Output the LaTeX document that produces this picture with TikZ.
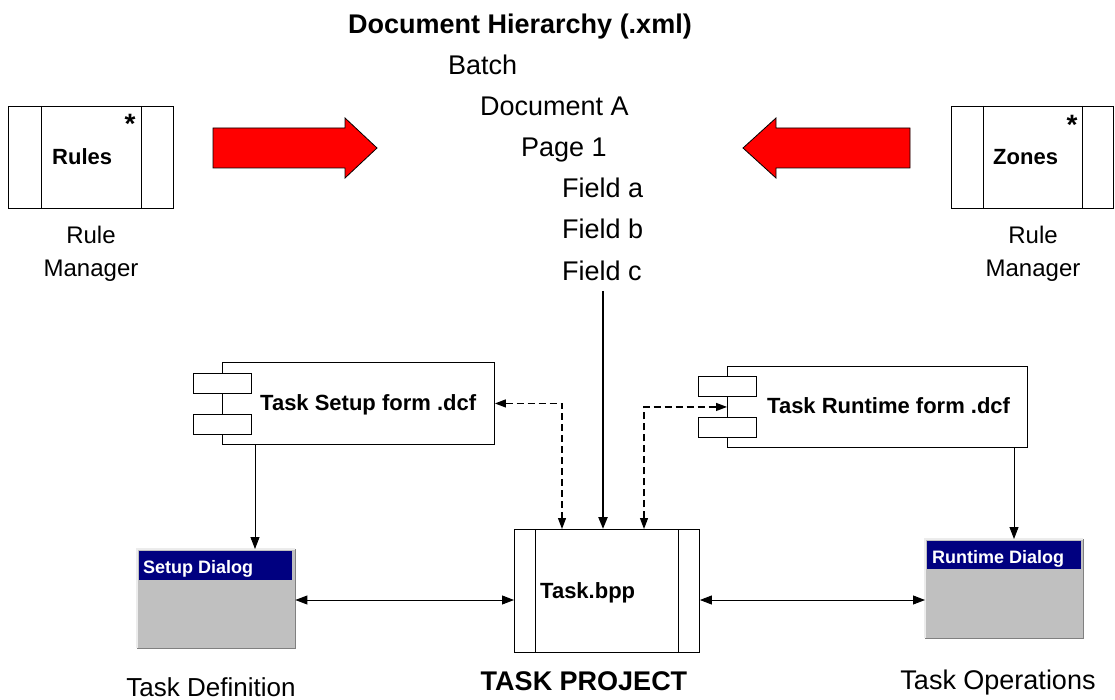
\documentclass[tikz,border=0pt]{standalone}
\usepackage{fontspec}
\setmainfont{Liberation Sans}
\usetikzlibrary{arrows.meta}
\definecolor{dlgblue}{HTML}{000080}
\definecolor{dlggray}{HTML}{C0C0C0}
\definecolor{dlgdark}{HTML}{808080}
\definecolor{arrred}{HTML}{FF0000}
\newcommand{\fsz}[1]{\fontsize{#1}{#1}\selectfont}
\begin{document}
\begin{tikzpicture}[x=1pt,y=-1pt,
  box/.style={draw, line width=0.9pt, inner sep=0, anchor=north west},
  innerline/.style={line width=0.9pt},
  txt/.style={inner sep=0, anchor=base west},
  ctxt/.style={inner sep=0, anchor=base},
  hier/.style={txt, font=\fsz{27}},
  boxlbl/.style={txt, font=\fsz{22}\bfseries},
  dlglbl/.style={txt, font=\fsz{18}\bfseries, text=white},
  star/.style={inner sep=0, anchor=base, font=\fsz{28}\bfseries},
  dlg/.style={fill=dlggray, inner sep=0, anchor=north west},
  bar/.style={fill=dlgblue, inner sep=0, anchor=north west},
  arr/.style={-{Triangle[length=12pt,width=9pt]}, line width=0.9pt},
  arrboth/.style={{Triangle[length=12pt,width=9pt]}-{Triangle[length=12pt,width=9pt]}, line width=0.9pt},
  darr/.style={{Triangle[length=11pt,width=8pt]}-{Triangle[length=11pt,width=8pt]}, line width=1.2pt, dash pattern=on 7pt off 4pt},
  thickarr/.style={-{Triangle[length=12pt,width=9pt]}, line width=2.3pt},
  redarrow/.style={fill=arrred, draw=black, line width=0.8pt, line join=miter}
]
\useasboundingbox (0,0) rectangle (1115,700);

% ---- Document hierarchy texts
\node[ctxt, font=\fsz{27}\bfseries] (title) at (520,34) {Document Hierarchy (.xml)};
\node[hier] (batch) at (448,75) {Batch};
\node[hier] (doca) at (480,116) {Document A};
\node[hier] (page1) at (521,157) {Page 1};
\node[hier] (fielda) at (562,198) {Field a};
\node[hier] (fieldb) at (562,239) {Field b};
\node[hier] (fieldc) at (562,280) {Field c};
\coordinate (fcend) at (603,291);

% ---- Rules box
\node[box, minimum width=165pt, minimum height=102pt] (rules) at (8,106) {};
\draw[innerline] ([xshift=33pt]rules.north west) -- ([xshift=33pt]rules.south west);
\draw[innerline] ([xshift=-32pt]rules.north east) -- ([xshift=-32pt]rules.south east);
\node[boxlbl] (ruleslbl) at (52,165) {Rules};
\node[star] (rulesstar) at (130,134) {*};
\node[ctxt, font=\fsz{24}] (rm1a) at (91,244) {Rule};
\node[ctxt, font=\fsz{24}] (rm1b) at (91,277) {Manager};

% ---- Zones box
\node[box, minimum width=162pt, minimum height=102pt] (zones) at (951,106) {};
\draw[innerline] ([xshift=32pt]zones.north west) -- ([xshift=32pt]zones.south west);
\draw[innerline] ([xshift=-31pt]zones.north east) -- ([xshift=-31pt]zones.south east);
\node[boxlbl] (zoneslbl) at (993,165) {Zones};
\node[star] (zonesstar) at (1072,135) {*};
\node[ctxt, font=\fsz{24}] (rm2a) at (1033,244) {Rule};
\node[ctxt, font=\fsz{24}] (rm2b) at (1033,277) {Manager};

% ---- Red arrows
\draw[redarrow] (213,128) -- (345,128) -- (345,118) -- (377,148) -- (345,178) -- (345,168) -- (213,168) -- cycle;
\draw[redarrow] (910,128) -- (776,128) -- (776,118) -- (743,148) -- (776,178) -- (776,168) -- (910,168) -- cycle;

% ---- Component boxes
\node[box, minimum width=272pt, minimum height=82pt] (setupform) at (222,362) {};
\node[box, fill=white, minimum width=58pt, minimum height=20pt] (sf1) at (193,373) {};
\node[box, fill=white, minimum width=58pt, minimum height=20pt] (sf2) at (193,414) {};
\node[boxlbl] (setupformlbl) at (260,410) {Task Setup form .dcf};

\node[box, minimum width=300pt, minimum height=81pt] (runform) at (727,366) {};
\node[box, fill=white, minimum width=58pt, minimum height=20pt] (rf1) at (698,376) {};
\node[box, fill=white, minimum width=58pt, minimum height=20pt] (rf2) at (698,417) {};
\node[boxlbl] (runformlbl) at (767,413) {Task Runtime form .dcf};

% ---- Task.bpp
\node[box, minimum width=185pt, minimum height=123pt] (task) at (514,529) {};
\draw[innerline] ([xshift=21pt]task.north west) -- ([xshift=21pt]task.south west);
\draw[innerline] ([xshift=-21pt]task.north east) -- ([xshift=-21pt]task.south east);
\node[boxlbl] (tasklbl) at (540,598) {Task.bpp};

% ---- Dialogs
\node[dlg, minimum width=158pt, minimum height=99pt] (setupdlg) at (137,549) {};
\draw[white!85!gray, line width=1.2pt] (setupdlg.south west) -- (setupdlg.north west) -- (setupdlg.north east);
\draw[dlgdark, line width=1.6pt] (setupdlg.north east) -- (setupdlg.south east) -- (setupdlg.south west);
\node[bar, minimum width=153pt, minimum height=29pt] (setupbar) at (139,551) {};
\node[dlglbl] (setupdlglbl) at (143,573) {Setup Dialog};

\node[dlg, minimum width=158pt, minimum height=99pt] (rundlg) at (925,539) {};
\draw[white!85!gray, line width=1.2pt] (rundlg.south west) -- (rundlg.north west) -- (rundlg.north east);
\draw[dlgdark, line width=1.6pt] (rundlg.north east) -- (rundlg.south east) -- (rundlg.south west);
\node[bar, minimum width=154pt, minimum height=28pt] (runbar) at (927,541) {};
\node[dlglbl] (rundlglbl) at (932,563) {Runtime Dialog};

% ---- Connectors
\draw[thickarr] (fcend) -- (fcend |- task.north);
\draw[arr] (255,0 |- setupform.south) -- (255,0 |- setupdlg.north);
\draw[arr] (1014,0 |- runform.south) -- (1014,0 |- rundlg.north);
\draw[darr] (setupform.east) -- (562,0 |- setupform.east) -- (562,0 |- task.north);
\draw[darr] (644,0 |- task.north) -- (644,0 |- runform.west) -- (runform.west);
\draw[arrboth] (setupdlg.east |- 0,600) -- (task.west |- 0,600);
\draw[arrboth] (task.east |- 0,600) -- (rundlg.west |- 0,600);

% ---- Bottom labels
\node[ctxt, font=\fsz{26}] (taskdef) at (211,696) {Task Definition};
\node[ctxt, font=\fsz{27}\bfseries] (taskproj) at (584,690) {TASK PROJECT};
\node[ctxt, font=\fsz{27}] (taskops) at (998,689) {Task Operations};
\end{tikzpicture}
\end{document}
